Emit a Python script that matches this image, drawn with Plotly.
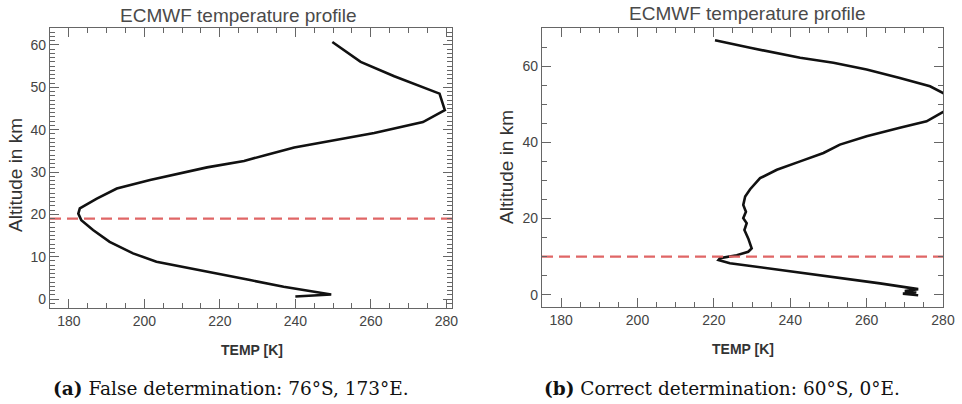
import plotly.graph_objects as go

# ---- data ----
temp_a = [249.8, 257.3, 266.2, 278.2, 279.6, 273.8, 260.9, 248.5, 239.7, 232.5, 226.4,
          216.6, 208.6, 201.5, 192.7, 187.4, 182.9, 182.5, 183.3,
          186.4, 190.8, 197.0, 203.2, 210.3, 219.2, 228.0, 236.9, 249.5, 240.0]
alt_a = [60.7, 56.0, 52.6, 48.5, 44.6, 41.8, 39.2, 37.3, 35.8, 34.1, 32.6,
         31.1, 29.6, 28.1, 26.1, 23.7, 21.4, 20.2, 18.6,
         16.3, 13.5, 10.8, 8.8, 7.6, 6.1, 4.5, 2.9, 1.1, 0.6]
tropo_a = 19.0

temp_b = [220.3, 229.5, 242.6, 251.3, 260.0, 268.7, 276.6, 280.3, 284.0, 279.7, 275.7,
          268.7, 260.0, 253.0, 248.7, 242.6, 236.5, 232.1, 229.5, 228.2, 227.7, 228.4,
          227.7, 228.6, 228.0, 229.0, 229.9, 229.0, 226.0, 221.6, 221.2, 224.2, 236.5,
          250.4, 263.5, 273.5, 270.0, 273.0, 269.5, 273.5]
alt_b = [66.8, 64.8, 62.2, 60.9, 59.1, 56.9, 54.7, 52.8, 50.3, 47.7, 45.5,
         43.8, 41.6, 39.4, 37.2, 35.0, 32.8, 30.6, 27.7, 25.8, 23.6, 21.8,
         20.1, 18.8, 17.0, 14.8, 12.2, 11.3, 10.4, 9.6, 9.1, 8.3, 6.7,
         4.9, 3.0, 1.5, 1.0, 0.6, 0.3, -0.1]
tropo_b = 10.0

x_range_a = [175, 281.5]
x_range_b = [175, 280]
y_range_a = [-2.1, 64]
y_range_b = [-3.2, 70]

title_text = "ECMWF temperature profile"
xlabel = "TEMP [K]"
ylabel = "Altitude in km"
caption_a = "<b>(a)</b> False determination: 76°S, 173°E."
caption_b = "<b>(b)</b> Correct determination: 60°S, 0°E."

# ---- figure ----
W, H = 962, 404
fig = go.Figure()

LINE = dict(color="#111111", width=2.6)
RED = dict(color="#e06666", width=2.2, dash="11px,6px")

fig.add_trace(go.Scatter(x=temp_a, y=alt_a, mode="lines", line=LINE, xaxis="x", yaxis="y",
                         showlegend=False, hoverinfo="skip"))
fig.add_trace(go.Scatter(x=x_range_a, y=[tropo_a, tropo_a], mode="lines", line=RED,
                         xaxis="x", yaxis="y", showlegend=False, hoverinfo="skip"))
fig.add_trace(go.Scatter(x=temp_b, y=alt_b, mode="lines", line=LINE, xaxis="x2", yaxis="y2",
                         showlegend=False, hoverinfo="skip"))
fig.add_trace(go.Scatter(x=x_range_b, y=[tropo_b, tropo_b], mode="lines", line=RED,
                         xaxis="x2", yaxis="y2", showlegend=False, hoverinfo="skip"))

AX_COL = "#666666"
SANS = "Liberation Sans, Arial, Helvetica, sans-serif"
TICK_FONT = dict(family=SANS, size=14, color="#444444")

def px_x(v):
    return v / W

def px_y(v):
    return 1 - v / H

def xax(x0, x1, anchor, rng):
    return dict(domain=[px_x(x0), px_x(x1)], anchor=anchor, range=rng, automargin=False,
                showgrid=False, zeroline=False,
                showline=True, linecolor=AX_COL, linewidth=1.2, mirror="ticks",
                tickmode="linear", tick0=180, dtick=20,
                ticks="inside", ticklen=9, tickcolor=AX_COL, tickwidth=1.3,
                tickfont=TICK_FONT,
                minor=dict(tickmode="linear", dtick=5, tick0=180, ticks="inside", ticklen=5,
                           tickcolor=AX_COL, tickwidth=1, showgrid=False))

def yax(y0, y1, anchor, rng, dtick, mdtick):
    return dict(domain=[px_y(y1), px_y(y0)], anchor=anchor, range=rng, automargin=False,
                showgrid=False, zeroline=False,
                showline=True, linecolor=AX_COL, linewidth=1.2, mirror="ticks",
                tickmode="linear", tick0=0, dtick=dtick,
                ticks="inside", ticklen=9, tickcolor=AX_COL, tickwidth=1.3,
                tickfont=TICK_FONT,
                minor=dict(tickmode="linear", dtick=mdtick, tick0=0, ticks="inside", ticklen=5,
                           tickcolor=AX_COL, tickwidth=1, showgrid=False))

fig.update_layout(
    width=W, height=H,
    margin=dict(l=0, r=0, t=0, b=0, pad=0),
    paper_bgcolor="white", plot_bgcolor="white",
    xaxis=xax(50, 452, "y", x_range_a),
    yaxis=yax(28, 308, "x", y_range_a, 10, 1),
    xaxis2=xax(542, 943, "y2", x_range_b),
    yaxis2=yax(28, 307, "x2", y_range_b, 20, 5),
)

def ann(text, x, y, size, color, family=SANS, angle=0):
    fig.add_annotation(text=text, x=px_x(x), y=px_y(y), xref="paper", yref="paper",
                       showarrow=False, xanchor="center", yanchor="middle",
                       textangle=angle, font=dict(family=family, size=size, color=color))

ann(title_text, 238, 15, 19, "#4a4a4a")
ann(title_text, 747, 13, 19, "#4a4a4a")
ann(ylabel, 16, 175, 19, "#333333", angle=-90)
ann(ylabel, 507, 167, 19, "#333333", angle=-90)
ann("<b>" + xlabel + "</b>", 252, 350, 14, "#333333")
ann("<b>" + xlabel + "</b>", 743, 349, 14, "#333333")
ann(caption_a, 231, 388, 18.5, "#111111", family="DejaVu Serif, serif")
ann(caption_b, 722, 388, 18.5, "#111111", family="DejaVu Serif, serif")

# remove the default page margin so the figure fills the window exactly
fig.write_html("out.html", config={"displayModeBar": False},
               post_script="document.body.style.margin='0px';")
